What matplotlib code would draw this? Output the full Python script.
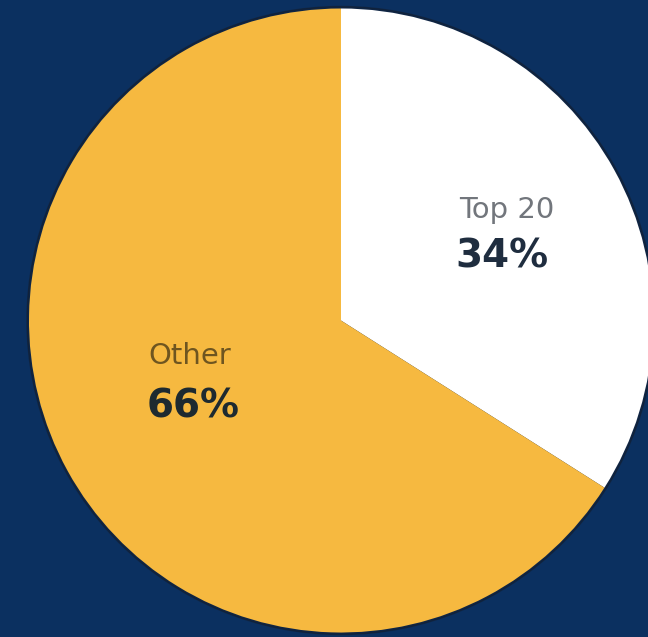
import matplotlib
matplotlib.use("Agg")
import matplotlib.pyplot as plt

# Share of total held by the top 20 versus everyone else
categories = ["Top 20", "Other"]
shares = [34, 66]
value_labels = ["34%", "66%"]

BG = "#0b3060"
SLICE_COLORS = ["#ffffff", "#f6b940"]

W, H = 648, 637
fig = plt.figure(figsize=(W / 100, H / 100), dpi=100, facecolor=BG)
ax = fig.add_axes([0, 0, 1, 1])
ax.set_facecolor(BG)

cx, cy, r = 341, 316.5, 312

# soft dark rim behind the pie
rim = plt.Circle((cx, cy), r + 2.0, color="#141c2a", alpha=0.5, zorder=0)
ax.add_patch(rim)

wedges, _ = ax.pie(
    shares,
    colors=SLICE_COLORS,
    startangle=90,
    counterclock=False,
    center=(cx, cy),
    radius=r,
    frame=True,
    wedgeprops=dict(linewidth=0),
)
ax.set_xlim(0, W)
ax.set_ylim(0, H)
ax.set_aspect("equal")
ax.axis("off")

font = "DejaVu Sans"

# Top 20 label
ax.text(459, H - 210, categories[0], fontsize=21, color="#72767c",
        family=font, ha="left", va="center")
ax.text(455, H - 257, value_labels[0], fontsize=28, color="#1f2d3f",
        family=font, fontweight="bold", ha="left", va="center")

# Other label
ax.text(148, H - 356, categories[1], fontsize=21, color="#6e5520",
        family=font, ha="left", va="center")
ax.text(147, H - 406, value_labels[1], fontsize=28, color="#1e2a30",
        family=font, fontweight="bold", ha="left", va="center")

fig.savefig("out.png", dpi=100, facecolor=BG)
